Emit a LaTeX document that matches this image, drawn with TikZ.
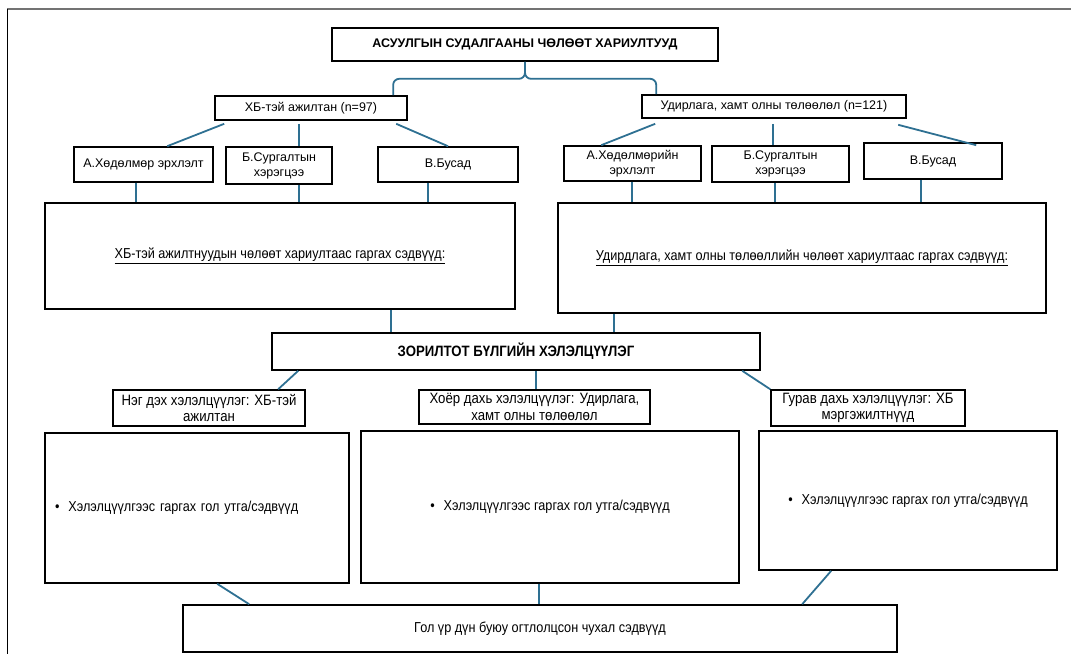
\documentclass[tikz,border=0pt]{standalone}
\usepackage{fontspec}
\setmainfont{Liberation Sans}
\newfontfamily\narrowfont[FakeStretch=0.88]{Liberation Sans}
\definecolor{linkblue}{RGB}{46,112,146}

\begin{document}
\begin{tikzpicture}[x=1pt, y=-1pt,
  box/.style={draw, line width=1.6pt, inner sep=2pt, align=center},
  link/.style={draw=linkblue, line width=1.8pt},
  lbl/.style={font=\fontsize{12.5}{15}\selectfont},
  wide/.style={font=\narrowfont\fontsize{14.4}{16}\selectfont},
  talk/.style={font=\narrowfont\fontsize{15}{16.5}\selectfont}]
  \useasboundingbox (0,0) rectangle (1071,654);

  % Frame
  \draw[black!55, line width=1.5pt] (7,9) -- (1071,9);
  \draw[line width=1pt] (7,9) -- (7,654);

  % Nodes
  \node[box, lbl, minimum width=386pt, minimum height=33pt] (top) at (525,44.5)
    {\bfseries АСУУЛГЫН СУДАЛГААНЫ ЧӨЛӨӨТ ХАРИУЛТУУД};
  \node[box, lbl, minimum width=192pt, minimum height=24pt] (hb) at (311,108) {ХБ-тэй ажилтан (n=97)};
  \node[box, lbl, minimum width=264pt, minimum height=23pt] (ud) at (774,106.5) {Удирлага, хамт олны төлөөлөл (n=121)};

  \node[box, lbl, minimum width=139pt, minimum height=35pt] (hA) at (143.5,164.5) {А.Хөдөлмөр эрхлэлт};
  \node[box, lbl, minimum width=106pt, minimum height=37pt] (hB) at (279,165.5) {Б.Сургалтын\\хэрэгцээ};
  \node[box, lbl, minimum width=140pt, minimum height=35pt] (hC) at (448,164.5) {В.Бусад};
  \node[box, lbl, minimum width=137pt, minimum height=35pt] (uA) at (632.5,163.5) {А.Хөдөлмөрийн\\эрхлэлт};
  \node[box, lbl, minimum width=137pt, minimum height=36pt] (uB) at (780.5,164) {Б.Сургалтын\\хэрэгцээ};
  \node[box, lbl, minimum width=138pt, minimum height=36pt] (uC) at (933,161) {В.Бусад};

  \node[box, wide, minimum width=470pt, minimum height=106pt] (bigL) at (280,256)
    {\underline{ХБ-тэй ажилтнуудын чөлөөт хариултаас гаргах сэдвүүд:}};
  \node[box, wide, minimum width=488pt, minimum height=110pt] (bigR) at (802,258)
    {\underline{Удирдлага, хамт олны төлөөллийн чөлөөт хариултаас гаргах сэдвүүд:}};

  \node[box, talk, minimum width=488pt, minimum height=37pt] (zor) at (516,351.5)
    {\bfseries ЗОРИЛТОТ БҮЛГИЙН ХЭЛЭЛЦҮҮЛЭГ};

  \node[box, talk, minimum width=192pt, minimum height=36pt] (n1) at (209,408) {Нэг дэх хэлэлцүүлэг: ХБ-тэй\\ажилтан};
  \node[box, talk, minimum width=231pt, minimum height=34pt] (n2) at (534.5,407) {Хоёр дахь хэлэлцүүлэг: Удирлага,\\хамт олны төлөөлөл};
  \node[box, talk, minimum width=194pt, minimum height=36pt] (n3) at (868,408) {Гурав дахь хэлэлцүүлэг: ХБ\\мэргэжилтнүүд};

  \node[box, wide, minimum width=304pt, minimum height=150pt, text width=284pt, align=left] (b1) at (197,508)
    {•\hspace{9pt}Хэлэлцүүлгээс гаргах гол утга/сэдвүүд};
  \node[box, wide, minimum width=378pt, minimum height=152pt] (b2) at (550,507)
    {•\hspace{9pt}Хэлэлцүүлгээс гаргах гол утга/сэдвүүд};
  \node[box, wide, minimum width=298pt, minimum height=139pt] (b3) at (908,500.5)
    {•\hspace{9pt}Хэлэлцүүлгээс гаргах гол утга/сэдвүүд};

  \node[box, wide, minimum width=714pt, minimum height=47pt] (fin) at (540,628.5)
    {Гол үр дүн буюу огтлолцсон чухал сэдвүүд};

  % Brace under the title
  \draw[link, rounded corners=6pt] ([shift={(179,0)}]hb.north west) |- ([shift={(0,17)}]top.south) -- (top.south);
  \draw[link, rounded corners=6pt] ([shift={(15,0)}]ud.north west) |- ([shift={(0,17)}]top.south) -- (top.south);

  % Connectors, first group
  \draw[link] ([shift={(10,3)}]hb.south west) -- ([shift={(94,0)}]hA.north west);
  \draw[link] ([shift={(85,3)}]hb.south west) -- ([shift={(74,0)}]hB.north west);
  \draw[link] ([shift={(182,3)}]hb.south west) -- (hC.north);
  \draw[link] ([shift={(63,0)}]hA.south west) -- ([shift={(92,0)}]bigL.north west);
  \draw[link] ([shift={(74,0)}]hB.south west) -- ([shift={(255,0)}]bigL.north west);
  \draw[link] ([shift={(51,0)}]hC.south west) -- ([shift={(384,0)}]bigL.north west);

  % Connectors, second group
  \draw[link] ([shift={(14,5)}]ud.south west) -- ([shift={(38,0)}]uA.north west);
  \draw[link] ([shift={(132,5)}]ud.south west) -- ([shift={(62,0)}]uB.north west);
  \draw[link] ([shift={(257,6)}]ud.south west) -- ([shift={(113,3)}]uC.north west);
  \draw[link] ([shift={(69,0)}]uA.south west) -- ([shift={(75,0)}]bigR.north west);
  \draw[link] ([shift={(64,0)}]uB.south west) -- ([shift={(218,0)}]bigR.north west);
  \draw[link] ([shift={(58,0)}]uC.south west) -- ([shift={(364,0)}]bigR.north west);

  % Into the focus group box
  \draw[link] ([shift={(347,0)}]bigL.south west) -- ([shift={(120,0)}]zor.north west);
  \draw[link] ([shift={(57,0)}]bigR.south west) -- ([shift={(343,0)}]zor.north west);

  % Out of the focus group box
  \draw[link] ([shift={(27,0)}]zor.south west) -- ([shift={(166,0)}]n1.north west);
  \draw[link] ([shift={(265,0)}]zor.south west) -- ([shift={(118,0)}]n2.north west);
  \draw[link] ([shift={(471,0)}]zor.south west) -- (n3.north west);

  % Into the result box
  \draw[link] ([shift={(173,0)}]b1.south west) -- ([shift={(67,0)}]fin.north west);
  \draw[link] ([shift={(179,0)}]b2.south west) -- ([shift={(357,0)}]fin.north west);
  \draw[link] ([shift={(73,0)}]b3.south west) -- ([shift={(620,0)}]fin.north west);
\end{tikzpicture}
\end{document}
